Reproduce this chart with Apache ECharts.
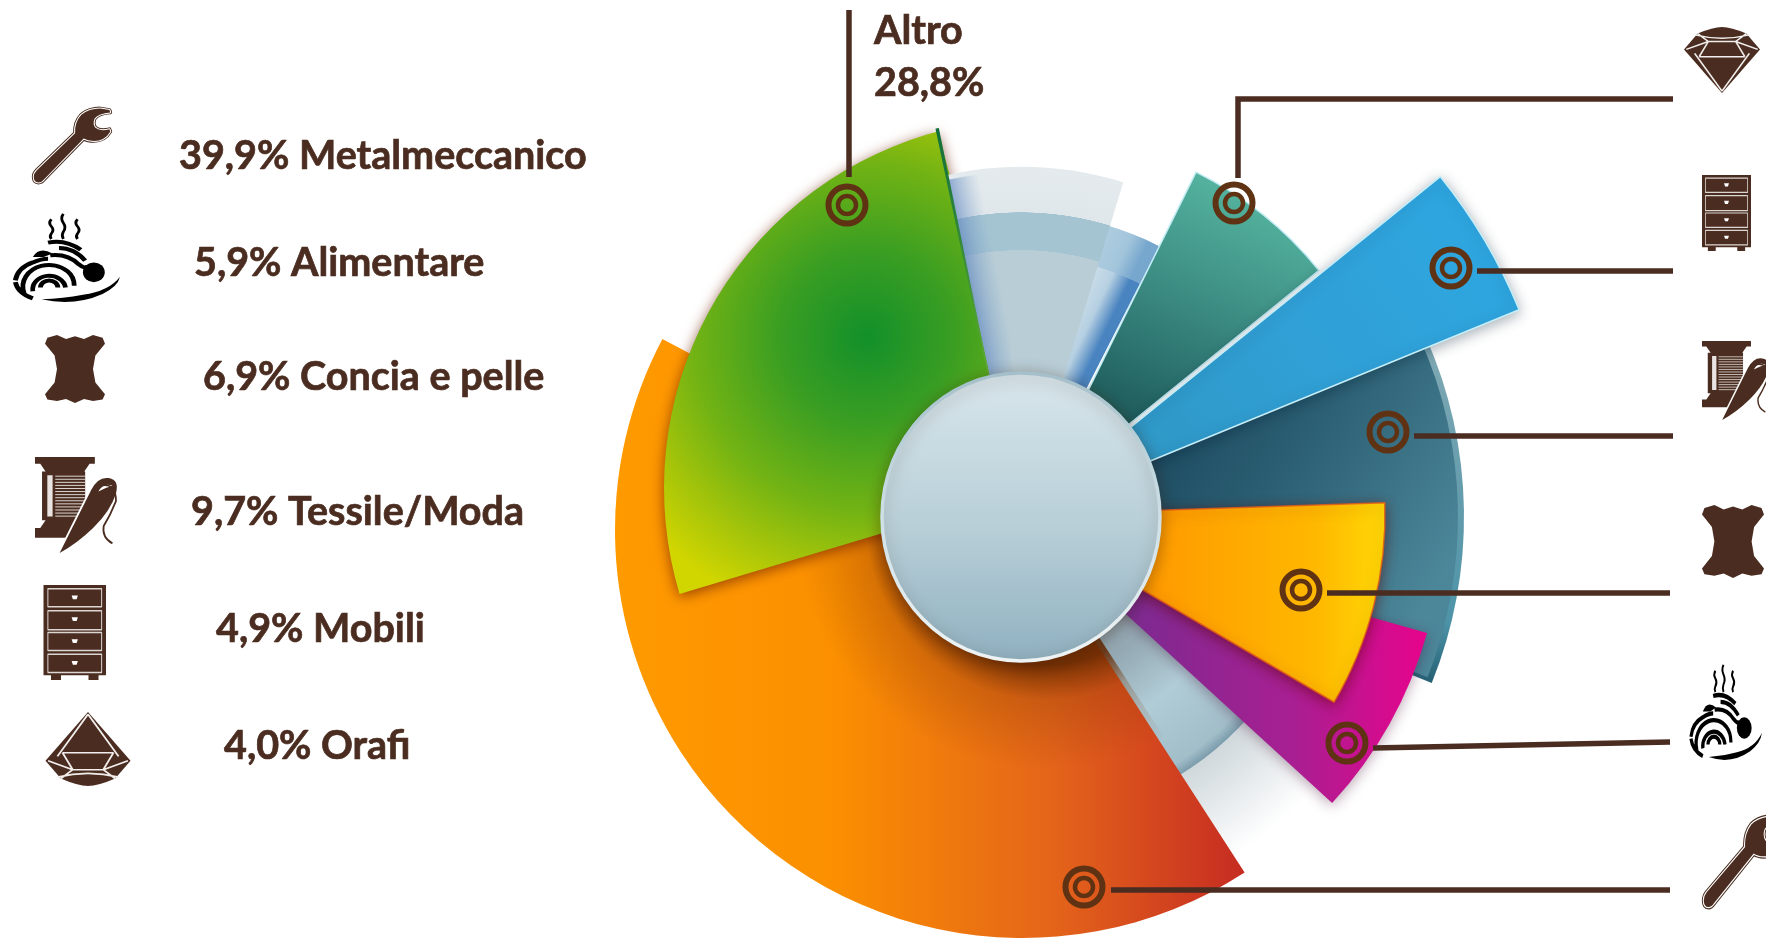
<!DOCTYPE html>
<html>
<head>
<meta charset="utf-8">
<style>html,body{margin:0;padding:0;background:#fff;overflow:hidden}#box{width:1766px;height:943px}</style>
<script src="https://cdn.jsdelivr.net/npm/echarts@6/dist/echarts.min.js"></script>
</head>
<body>
<div id="box"></div>
<script>
// valori
var categories = ['Metalmeccanico', 'Alimentare', 'Concia e pelle', 'Tessile/Moda', 'Mobili', 'Orafi', 'Altro'];
var shares = [39.9, 5.9, 6.9, 9.7, 4.9, 4.0, 28.8];

var BROWN = '#4a2d20';
var RING = '#5e3213';
var CX = 1021, CY = 517;

function linear(x, y, x2, y2, stops) {
    return {type: 'linear', x: x, y: y, x2: x2, y2: y2, global: true,
        colorStops: stops.map(function (s) { return {offset: s[0], color: s[1]}; })};
}
function radial(x, y, r, stops) {
    return {type: 'radial', x: x, y: y, r: r, global: true,
        colorStops: stops.map(function (s) { return {offset: s[0], color: s[1]}; })};
}

// forma di ogni spicchio: i settori del disegno non sono proporzionali ai valori
var sliceShape = {
    'Metalmeccanico': {c: [1023, 530], r: 408, from: 147.1, sweep: 150.8,
        color: linear(615, 0, 1242, 0, [[0, '#ff9a00'], [0.35, '#fb8f00'], [0.7, '#e4641a'], [1, '#c62d22']])},
    'Alimentare': {c: [1021, 518], r: 422, from: 105.8, sweep: 26.7,
        color: linear(1130, 0, 1425, 0, [[0, '#7c2a90'], [0.55, '#a81f92'], [1, '#e6048c']]),
        shadow: 'rgba(60,0,40,.35)'},
    'Concia e pelle': {c: [1015, 515], r: 370, from: 88.1, sweep: 32.3, border: 'rgba(226,92,24,.85)',
        color: linear(1160, 0, 1385, 0, [[0, '#ff9c00'], [0.7, '#ffb800'], [1, '#ffd806']]),
        shadow: 'rgba(90,0,0,.55)'},
    'Tessile/Moda': {c: [CX, CY], r: 437, from: 66, sweep: 45.5,
        color: linear(1090, 400, 1420, 610, [[0, '#143f55'], [0.5, '#2b5e72'], [1, '#4c8699']])},
    'Mobili': {c: [1026, 512], r: 533, from: 51, sweep: 16.7, border: '#c6eef8',
        color: linear(1150, 470, 1480, 230, [[0, '#2f98c6'], [0.5, '#30a0d6'], [1, '#2ea6e0']]),
        shadow: 'rgba(0,30,50,.35)'},
    'Orafi': {c: [1033, 502], r: 368, from: 26.3, sweep: 24.7, border: '#c2ecf5',
        color: linear(1225, 190, 1120, 420, [[0, '#53b19d'], [0.5, '#39877f'], [1, '#1d5a5a']])},
    'Altro': {c: [1033, 488], r: 369, from: 253.3, sweep: 91.8,
        color: radial(867, 337, 290, [[0, '#12902a'], [0.3, '#3a9e22'], [0.6, '#72b314'], [0.8, '#a4c40a'], [1, '#d2d600']]),
        shadow: 'rgba(110,30,0,.7)'}
};

// spicchi senza valore: decorazioni chiare e ombre
var backGhosts = [
    {r: 400, from: 128, sweep: 24, color: radial(CX, CY, 400, [[0, '#c5d0d5'], [0.72, '#c8d2d6'], [1, '#ffffff']])},
    {r: 303, from: 128, sweep: 24, color: radial(CX, CY, 303, [[0, '#7f929c'], [0.55, '#93a8b2'], [0.75, '#b0ccd6'], [0.96, '#a2bec9'], [1, '#7b9cac']])}
];
var orangeShade = {r: 290, from: 147, sweep: 140, color: radial(1045, 520, 250, [[0, 'rgba(100,40,0,.85)'], [0.58, 'rgba(100,40,0,.85)'], [0.72, 'rgba(120,50,0,.25)'], [1, 'rgba(120,50,0,0)']])};
var tealRim = {r: 443, from: 66, sweep: 46, color: linear(0, 350, 0, 690, [[0, '#7fa8b3'], [0.8, '#4d93a8'], [1, '#215a6c']])};
var ghostRight = [
    {r: 304, from: 16, sweep: 11, color: linear(1076, 254, 1130, 280, [[0, '#e4edf2'], [0.7, '#b6d0e2'], [1, '#4a84c0']])},
    {r: 304, from: 16, sweep: 11, color: radial(CX, CY, 304, [[0, 'rgba(150,190,215,0)'], [0.86, 'rgba(150,190,215,0)'], [0.861, 'rgba(150,190,215,.6)'], [1, 'rgba(150,190,215,.6)']])}
];
var ghostLeft = [
    {r: 350, from: 347.6, sweep: 29.4, color: radial(CX, CY, 350, [[0, '#b8cdd6'], [0.762, '#b8cdd6'], [0.763, '#a4c4d2'], [0.87, '#a4c4d2'], [0.871, '#e0e7eb'], [1, '#e4eaed']])},
    {r: 345, from: 347.6, sweep: 9, color: linear(962, 302, 1002, 294, [[0, 'rgba(70,110,185,.8)'], [1, 'rgba(120,160,200,0)']])}
];

function sector(name, center, r, from, sweep, value, color, shadow, border) {
    return {
        type: 'pie', name: name, silent: true, animation: false,
        center: center, radius: [0, r], startAngle: 90 - from, clockwise: true,
        avoidLabelOverlap: false, label: {show: false}, labelLine: {show: false},
        emphasis: {disabled: true},
        data: [
            {name: name, value: value, itemStyle: {color: color, shadowColor: shadow || 'rgba(0,0,0,0)', shadowBlur: shadow ? 14 : 0,
                shadowOffsetY: shadow ? 3 : 0, borderColor: border || 'transparent', borderWidth: border ? 1.5 : 0}},
            {name: '', value: value * (360 / sweep - 1), itemStyle: {color: 'rgba(0,0,0,0)'}}
        ]
    };
}
function decor(g) {
    return sector('', [CX, CY], g.r, g.from, g.sweep, g.sweep, g.color);
}
function slice(name) {
    var s = sliceShape[name];
    return sector(name, s.c, s.r, s.from, s.sweep, shares[categories.indexOf(name)], s.color, s.shadow, s.border);
}

// ordine di disegno, dal fondo
var series = [].concat(
    backGhosts.map(decor),
    slice('Metalmeccanico'),
    decor(orangeShade),
    decor(tealRim),
    slice('Tessile/Moda'),
    slice('Alimentare'),
    slice('Concia e pelle'),
    ghostRight.map(decor),
    slice('Orafi'),
    slice('Mobili'),
    slice('Altro'),
    ghostLeft.map(decor),
    // filo verde scuro sul lato destro di Altro
    sector('', [1018, 517], 397, 348, 0.5, 0.5, linear(0, 128, 0, 370, [[0, '#0f6e3a'], [1, '#5fa83a']]))
);

// icone, ognuna nel suo riquadro 100x100
var stripes = '';
for (var sy = 20; sy < 64; sy += 3.2) { stripes += 'M23 ' + sy + 'H57'; }
var swirl = [
    'M37 8q-3 4 0 8q3 4 0 8q-2 3 0 6', 'M48 2q-3 5 0 10q3 5 0 10q-2 4 0 8', 'M61 8q-3 4 0 8q3 4 0 8q-2 3 0 6',
    'M27 84a8 8 0 0 1 16 0', 'M20 88a15 15 0 0 1 30 -4', 'M12 90a24 24 0 0 1 40 -24q6 6 6 16',
    'M4 76q2 -14 16 -20q8 -4 14 -4', 'M4 78q2 12 16 18', 'M36 48q16 -2 26 10q6 6 8 2', 'M44 40q14 0 24 14', 'M34 34q16 -4 30 8'
];
var wrenchPath = 'M7 98Q1 98 1 91Q1 86 5 82L54 34Q53 20 62 10Q72 2 86 2L98 4L99 7Q84 8 79 15Q76 22 80 27Q86 32 98 29L99 32Q92 44 78 44Q70 44 65 41L14 94Q11 98 7 98Z';
var needlePath = 'M28 100L64 34Q72 20 84 22Q96 24 92 38Q86 56 66 74Q48 90 28 100Z';
var icons = {
    wrench: [
        {d: wrenchPath, stroke: BROWN, lw: 5},
        {d: wrenchPath, stroke: '#fff', lw: 2.6},
        {d: wrenchPath, fill: BROWN}
    ],
    pasta: [
        {d: swirl.slice(0, 3).join(''), stroke: '#000', lw: 2.6},
        {d: swirl.slice(3).join(''), stroke: '#000', lw: 4.4},
        {d: 'M66 67a10 11 0 1 0 20 0a10 11 0 1 0 -20 0Z', fill: '#000'},
        {d: 'M20 50Q26 38 38 46L30 50Z', fill: '#000'},
        {d: 'M28 97q30 8 56 -6q14 -8 16 -19q-10 16 -34 20q-18 4 -38 5Z', fill: '#000'}
    ],
    hide: [
        {d: 'M4 4L20 0L35 6L50 2L65 6L80 0L96 4L100 13L84 30L80 50L84 70L100 87L96 95L80 97L65 94L50 100L35 94L20 97L4 95L0 87L16 70L20 50L16 30L0 13Z', fill: BROWN}
    ],
    spool: [
        {d: 'M0 0H68V7H0ZM6 7H62L56 15H12ZM8 15H57V66H8ZM12 66H50L56 74H6ZM0 74H42V84H0Z', fill: BROWN},
        {d: 'M14 19H20V62H14Z', fill: '#e9e4e1'},
        {d: stripes, stroke: '#e9e4e1', lw: 1},
        {d: needlePath, stroke: '#fff', lw: 4},
        {d: needlePath, fill: BROWN},
        {d: 'M72 36Q78 26 88 30Q80 32 72 36Z', fill: '#fff'},
        {d: 'M74 30Q92 26 92 46Q86 60 78 72Q76 84 88 90', stroke: BROWN, lw: 2}
    ],
    cabinet: [
        {d: 'M0 0H100V95H88V100H72V95H28V100H12V95H0Z', fill: BROWN},
        {d: 'M7 4H93V23H7ZM7 27H93V47H7ZM7 50H93V69H7ZM7 73H93V92H7Z', stroke: '#dcd6d2', lw: 1.6},
        {d: 'M45 11H55L53 15H47ZM45 34H55L53 38H47ZM45 57H55L53 61H47ZM45 80H55L53 84H47Z', fill: '#fff'}
    ],
    diamond: [
        {d: 'M50 0L100 66L82 90Q62 100 50 100Q38 100 18 90L0 66Z', fill: BROWN},
        {d: 'M50 3L14 60M50 3L86 60M20 55H80M20 55L32 78H68L80 55M3 66L32 78M97 66L68 78M18 90L32 78M82 90L68 78M14 88Q50 78 86 88', stroke: '#f2eeec', lw: 2.2}
    ]
};
// il componente graphic non ha un tipo "path": ogni livello diventa una forma registrata
Object.keys(icons).forEach(function (k) {
    icons[k].forEach(function (l, i) {
        l.shapeName = 'icon_' + k + '_' + i;
        echarts.graphic.registerShape(l.shapeName, echarts.graphic.extendPath(l.d, {}));
    });
});

function icon(name, x, y, w, h, flip) {
    return {
        type: 'group', x: x, y: flip ? y + h : y, scaleX: w / 100, scaleY: (flip ? -1 : 1) * h / 100, silent: true,
        children: icons[name].map(function (l) {
            return {type: l.shapeName, z: 12,
                style: {fill: l.fill || 'transparent', stroke: l.stroke || 'transparent', lineWidth: l.lw || 0, lineJoin: 'round'}};
        })
    };
}
function text(str, x, y) {
    return {type: 'text', x: x, y: y, z: 12, silent: true, style: {text: str, fill: BROWN, stroke: BROWN, lineWidth: 0.7, font: 'bold 39.5px Lato', verticalAlign: 'middle'}};
}
function leader(points) {
    return {type: 'polyline', z: 12, silent: true, shape: {points: points}, style: {stroke: BROWN, lineWidth: 5.5, fill: 'transparent'}};
}
function ring(x, y) {
    return {type: 'group', silent: true, children: [
        {type: 'circle', z: 13, shape: {cx: x, cy: y, r: 18.5}, style: {fill: 'transparent', stroke: RING, lineWidth: 6}},
        {type: 'circle', z: 13, shape: {cx: x, cy: y, r: 9}, style: {fill: 'transparent', stroke: RING, lineWidth: 4.5}}
    ]};
}
function legendLabel(name) {
    var i = categories.indexOf(name);
    return shares[i].toFixed(1).replace('.', ',') + '% ' + name;
}

var elements = [
    // disco centrale
    {type: 'ellipse', z: 10, silent: true, shape: {cx: CX, cy: CY, rx: 139, ry: 144},
        style: {fill: {type: 'linear', x: 0, y: 0, x2: 0, y2: 1, colorStops: [{offset: 0, color: '#d8e6ec'}, {offset: 0.55, color: '#b7ced7'}, {offset: 1, color: '#8fb0c0'}]},
            stroke: {type: 'linear', x: 0, y: 0, x2: 0, y2: 1, colorStops: [{offset: 0, color: '#a4bfca'}, {offset: 0.5, color: '#cfe0e6'}, {offset: 1, color: '#eef3f4'}]},
            lineWidth: 3.5, shadowColor: 'rgba(50,20,0,.35)', shadowBlur: 16, shadowOffsetY: 3}},

    text(legendLabel('Metalmeccanico'), 179, 156),
    text(legendLabel('Alimentare'), 194, 263),
    text(legendLabel('Concia e pelle'), 203, 377),
    text(legendLabel('Tessile/Moda'), 191, 512),
    text(legendLabel('Mobili'), 216, 629),
    text(legendLabel('Orafi'), 224, 746),
    text('Altro', 874, 31),
    text(shares[6].toFixed(1).replace('.', ',') + '%', 874, 83),

    leader([[849, 10], [849, 177]]),
    leader([[1238, 178], [1238, 99], [1673, 99]]),
    leader([[1477, 271], [1673, 271]]),
    leader([[1414, 436], [1673, 436]]),
    leader([[1327, 593], [1670, 593]]),
    leader([[1373, 748], [1670, 742]]),
    leader([[1111, 890], [1670, 890]]),

    ring(847, 205), ring(1234, 203), ring(1451, 268), ring(1388, 432), ring(1301, 590), ring(1347, 743), ring(1084, 887),

    icon('wrench', 33, 107, 78, 77),
    icon('pasta', 11, 212, 109, 90),
    icon('hide', 45, 335, 60, 68),
    icon('spool', 35, 457, 88, 96),
    icon('cabinet', 43.5, 585, 62.5, 95),
    icon('diamond', 45.5, 712, 85, 74),

    icon('diamond', 1684, 27, 76, 66, true),
    icon('cabinet', 1702, 175, 49, 76),
    icon('spool', 1702, 341, 72, 79),
    icon('hide', 1702, 505, 62, 73),
    icon('pasta', 1688, 663, 74, 97),
    icon('wrench', 1703, 815, 78, 94)
];

var chart = echarts.init(document.getElementById('box'), null, {renderer: 'canvas'});
chart.setOption({
    backgroundColor: '#ffffff',
    animation: false,
    tooltip: {show: false},
    series: series,
    graphic: {elements: elements}
});
</script>
</body>
</html>
